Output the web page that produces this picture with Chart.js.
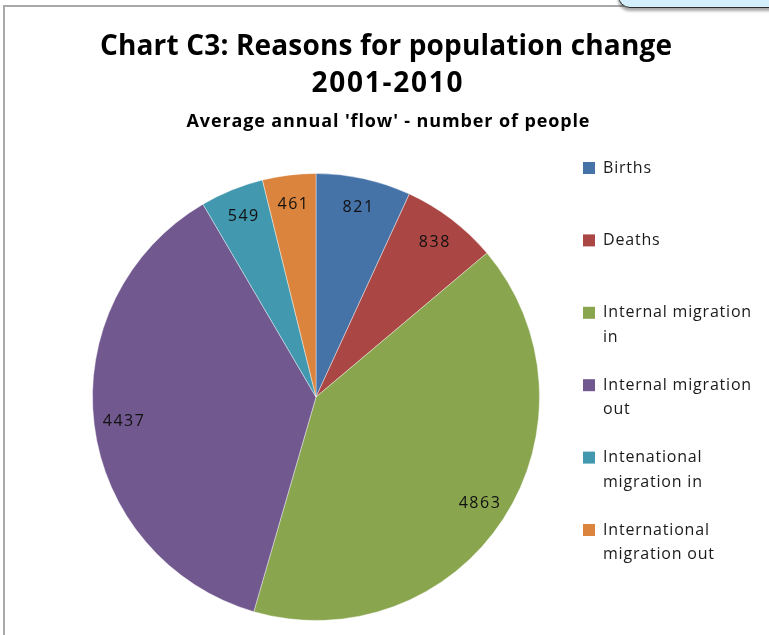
<!DOCTYPE html>
<html>
<head>
<meta charset="utf-8">
<script src="https://cdn.jsdelivr.net/npm/chart.js@4.4.1/dist/chart.umd.min.js"></script>
<style>
  html, body { margin: 0; padding: 0; background: #ffffff; }
  #wrap { position: relative; width: 769px; height: 635px; overflow: hidden; }
  canvas { position: absolute; left: 0; top: 0; }
  .frame { position: absolute; left: 3px; top: 5px; width: 800px; height: 700px;
           border-left: 2px solid #a9a9a9; border-top: 2px solid #a9a9a9; }
  .note { position: absolute; left: 618px; top: -30px; width: 200px; height: 36px;
          background: #d4effc; border: 1.5px solid #2a2a2a; border-radius: 12px;
          box-shadow: 0 3px 3px rgba(0,0,0,0.35); }
</style>
</head>
<body>
<div id="wrap">
  <div class="frame"></div>
  <canvas id="c" width="769" height="635"></canvas>
  <div class="note"></div>
</div>
<script>
// Average annual flows, 2001-2010
const categories = ['Births', 'Deaths', 'Internal migration in', 'Internal migration out',
                    'Intenational migration in', 'International migration out'];
const flows = [821, 838, 4863, 4437, 549, 461];
const sliceColours = ['#4572A7', '#AA4643', '#89A54E', '#71588F', '#4198AF', '#DB843D'];
const titleLines = ['Chart C3: Reasons for population change', '2001-2010'];
const subtitleText = "Average annual 'flow' - number of people";

const FONT = '"Open Sans", Lato, sans-serif';

// draws a line of text centred on cx, spreading the letters to fill width w
function spreadText(ctx, text, cx, y, w) {
  ctx.letterSpacing = '0px';
  const natural = ctx.measureText(text).width;
  const gap = (w - natural) / (text.length - 1);
  ctx.letterSpacing = gap + 'px';
  ctx.textAlign = 'left';
  ctx.fillText(text, cx - w / 2, y);
  ctx.letterSpacing = '0px';
}

// title block above the pie
const titleBlock = {
  id: 'titleBlock',
  afterDraw(chart) {
    const ctx = chart.ctx;
    ctx.save();
    ctx.fillStyle = '#000000';
    ctx.textBaseline = 'alphabetic';
    ctx.font = 'bold 28px ' + FONT;
    spreadText(ctx, titleLines[0], 386, 55, 572);
    spreadText(ctx, titleLines[1], 387, 92, 151);
    ctx.font = 'bold 18px ' + FONT;
    spreadText(ctx, subtitleText, 388, 127, 403);
    ctx.restore();
  }
};

// value labels placed inside each slice, near the rim
const sliceValueLabels = {
  id: 'sliceValueLabels',
  afterDatasetsDraw(chart) {
    const ctx = chart.ctx;
    const meta = chart.getDatasetMeta(0);
    ctx.save();
    ctx.font = '16px ' + FONT;
    ctx.letterSpacing = '1.5px';
    ctx.fillStyle = '#111111';
    ctx.textAlign = 'center';
    ctx.textBaseline = 'middle';
    meta.data.forEach((arc, i) => {
      const p = arc.getProps(['x', 'y', 'startAngle', 'endAngle', 'outerRadius'], true);
      const mid = (p.startAngle + p.endAngle) / 2;
      const r = p.outerRadius * 0.87;
      ctx.fillText(String(chart.data.datasets[0].data[i]),
                   p.x + Math.cos(mid) * r + 1, p.y + Math.sin(mid) * r);
    });
    ctx.restore();
  }
};

// legend on the right with wrapped labels and evenly spread entries
const sideLegend = {
  id: 'sideLegend',
  afterDraw(chart) {
    const ctx = chart.ctx;
    const labels = chart.data.labels;
    const colours = chart.data.datasets[0].backgroundColor;
    const boxX = 583, textX = 603, firstY = 168, step = 72.4, lineH = 24.5, maxW = 162;
    ctx.save();
    ctx.font = '16px ' + FONT;
    ctx.letterSpacing = '0.8px';
    ctx.textBaseline = 'middle';
    ctx.textAlign = 'left';
    labels.forEach((label, i) => {
      const y = firstY + i * step;
      ctx.fillStyle = colours[i];
      ctx.fillRect(boxX, y - 6, 12, 12);
      const words = label.split(' ');
      const lines = [];
      let cur = '';
      words.forEach(w => {
        const t = cur ? cur + ' ' + w : w;
        if (cur && ctx.measureText(t).width > maxW) { lines.push(cur); cur = w; }
        else cur = t;
      });
      lines.push(cur);
      ctx.fillStyle = '#1a1a1a';
      lines.forEach((ln, k) => ctx.fillText(ln, textX, y + k * lineH));
    });
    ctx.restore();
  }
};

new Chart(document.getElementById('c'), {
  type: 'pie',
  data: {
    labels: categories,
    datasets: [{
      data: flows,
      backgroundColor: sliceColours,
      borderColor: 'rgba(255,255,255,0.4)',
      borderWidth: 1
    }]
  },
  options: {
    responsive: false,
    animation: false,
    devicePixelRatio: 1,
    layout: { padding: { left: 92, right: 229, top: 173, bottom: 14 } },
    plugins: {
      legend: { display: false },
      tooltip: { enabled: false },
      title: { display: false }
    }
  },
  plugins: [titleBlock, sliceValueLabels, sideLegend]
});
</script>
</body>
</html>
